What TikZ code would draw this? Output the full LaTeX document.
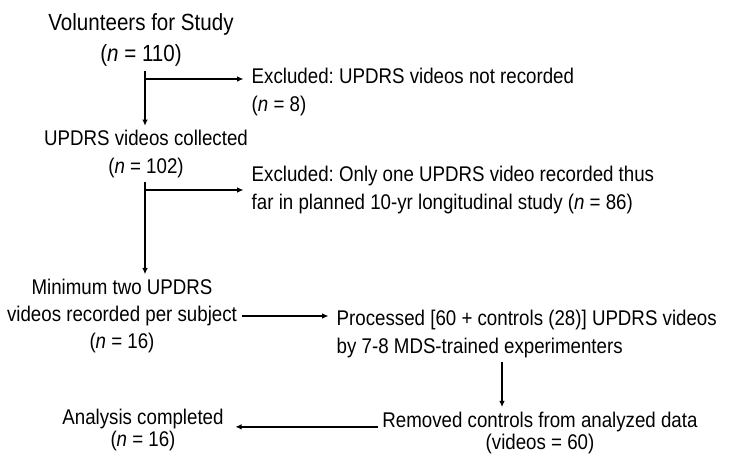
\documentclass[tikz,border=0pt]{standalone}
\usepackage{fontspec}
\setmainfont{Liberation Sans}[FakeStretch=0.88]
\usepackage{tikz}
\usetikzlibrary{arrows.meta}
\frenchspacing

\tikzset{
  txt/.style={inner sep=2.5pt, align=center, font=\fontsize{12.1}{15.4}\selectfont},
  tight/.style={font=\fontsize{12.1}{12.8}\selectfont},
  ttl/.style={inner sep=2.5pt, align=center, font=\fontsize{13.3}{17.6}\selectfont},
  arr/.style={-{Latex[length=3.6pt,width=3.2pt]}, line width=0.85pt}
}

\begin{document}
\begin{tikzpicture}[x=0.02cm, y=-0.02cm]
\useasboundingbox (0,0) rectangle (733,468);

\node[ttl] (vol) at (141,40) {Volunteers for Study\\(\textit{n} = 110)};
\node[txt, anchor=west, align=left] (ex1) at (247,92) {Excluded: UPDRS videos not recorded\\(\textit{n} = 8)};

\node[txt] (coll) at (146,154) {UPDRS videos collected\\(\textit{n} = 102)};
\node[txt, anchor=west, align=left] (ex2) at (247,190) {Excluded: Only one UPDRS video recorded thus\\far in planned 10-yr longitudinal study (\textit{n} = 86)};

\node[txt] (minv) at (122,316) {Minimum two UPDRS\\videos recorded per subject\\(\textit{n} = 16)};
\node[txt, anchor=west, align=left] (proc) at (332,334) {Processed [60 + controls (28)] UPDRS videos\\by 7-8 MDS-trained experimenters};

\node[txt, tight] (rem) at (540,433) {Removed controls from analyzed data\\(videos = 60)};
\node[txt, tight] (ana) at (143,430) {Analysis completed\\(\textit{n} = 16)};

% branch points
\coordinate (b1) at (145,79);
\coordinate (b2) at (145,190);
\coordinate (b3) at (502,362);

\path
    (vol.south -| b1) edge[arr] (coll.north -| b1)
    (b1) edge[arr, shorten >=2pt] (b1 -| ex1.west)
    (coll.south -| b2) edge[arr] (minv.north -| b2)
    (b2) edge[arr, shorten >=2pt] (b2 -| ex2.west)
    (minv.east) edge[arr, shorten >=2pt] (minv.east -| proc.west)
    (proc.south -| b3) edge[arr] (rem.north -| b3)
    ([yshift=3.5pt]rem.west) edge[arr, shorten >=4pt] ([yshift=3.5pt]rem.west -| ana.east);
\end{tikzpicture}
\end{document}
